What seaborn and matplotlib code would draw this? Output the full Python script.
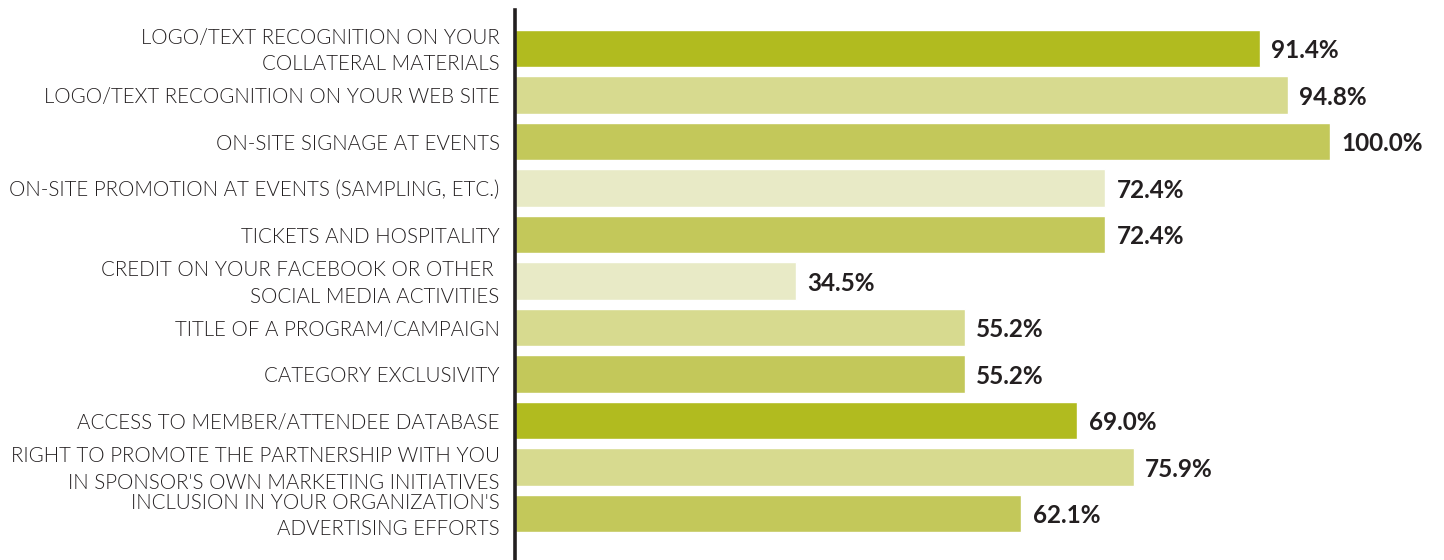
import matplotlib
matplotlib.use("Agg")
import matplotlib.pyplot as plt
import matplotlib.transforms as mtransforms
import seaborn as sns
import pandas as pd

categories = [
    "LOGO/TEXT RECOGNITION ON YOUR\nCOLLATERAL MATERIALS",
    "LOGO/TEXT RECOGNITION ON YOUR WEB SITE",
    "ON-SITE SIGNAGE AT EVENTS",
    "ON-SITE PROMOTION AT EVENTS (SAMPLING, ETC.)",
    "TICKETS AND HOSPITALITY",
    "CREDIT ON YOUR FACEBOOK OR OTHER \nSOCIAL MEDIA ACTIVITIES",
    "TITLE OF A PROGRAM/CAMPAIGN",
    "CATEGORY EXCLUSIVITY",
    "ACCESS TO MEMBER/ATTENDEE DATABASE",
    "RIGHT TO PROMOTE THE PARTNERSHIP WITH YOU\nIN SPONSOR'S OWN MARKETING INITIATIVES",
    "INCLUSION IN YOUR ORGANIZATION'S\nADVERTISING EFFORTS",
]
values = [91.4, 94.8, 100.0, 72.4, 72.4, 34.5, 55.2, 55.2, 69.0, 75.9, 62.1]

DARK, MID, LIGHT, PALE = "#b1bb1f", "#c3c85a", "#d7da8f", "#e8eac6"
bar_colors = [DARK, LIGHT, MID, PALE, MID, PALE, LIGHT, MID, DARK, LIGHT, MID]

df = pd.DataFrame({"item": categories, "pct": values})

sns.set_style("white")
plt.rcParams["font.family"] = ["Lato", "DejaVu Sans"]

fig = plt.figure(figsize=(14.44, 5.6), dpi=100)
ax = fig.add_axes([515 / 1444, 0.0, (1330 - 515) / 1444, 550 / 560])

sns.barplot(data=df, x="pct", y="item", hue="item", palette=bar_colors,
            legend=False, width=0.8, saturation=1, ax=ax, orient="h")

ax.set_xlim(0, 100)
ax.set_ylim(11.0, -0.828)
ax.set_xlabel("")
ax.set_ylabel("")
ax.set_xticks([])
ax.tick_params(axis="y", length=0, pad=11)

# two-line labels sit a little low with va=center; nudge them up
lift = mtransforms.ScaledTranslation(0, 3 / 100, fig.dpi_scale_trans)
for lab in ax.get_yticklabels():
    lab.set_fontweight(300)
    lab.set_fontsize(14.8)
    lab.set_color("#231f20")
    lab.set_linespacing(1.42)
    if "\n" in lab.get_text():
        lab.set_transform(lab.get_transform() + lift)

for i, v in enumerate(values):
    ax.text(v + 1.4, i + 0.05, f"{v:.1f}%", va="center", ha="left",
            fontsize=17.5, fontweight="bold", color="#231f20")

for side in ["top", "right", "bottom"]:
    ax.spines[side].set_visible(False)
ax.spines["left"].set_color("#231f20")
ax.spines["left"].set_linewidth(2.6)

fig.savefig("out.png", dpi=100)
